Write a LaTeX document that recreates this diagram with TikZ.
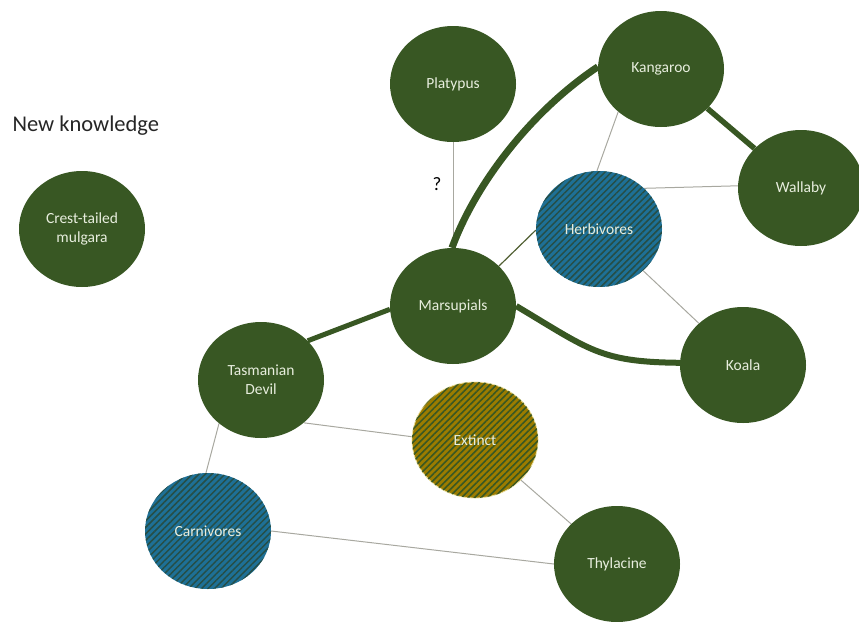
\documentclass[tikz,border=0pt]{standalone}
\usepackage{fontspec}
\setmainfont{Carlito}
\usetikzlibrary{shapes.geometric,patterns.meta}
\definecolor{dkgreen}{RGB}{56,87,35}
\definecolor{hblue}{RGB}{30,112,150}
\definecolor{hstripe}{RGB}{38,78,70}
\definecolor{gold}{RGB}{155,124,0}
\definecolor{txtlight}{RGB}{232,238,222}
\definecolor{thin}{RGB}{168,168,160}
\definecolor{olive}{RGB}{80,95,50}
\pgfdeclarelayer{bg}
\pgfsetlayers{bg,main}
\tikzset{
  bubble/.style={ellipse, minimum width=126pt, minimum height=116pt, inner sep=0pt,
    fill=dkgreen, text=txtlight, align=center, font=\fontsize{15.5}{19}\selectfont},
  herbstyle/.style={bubble, fill=hblue,
    postaction={pattern={Lines[angle=45,distance=4.6pt,line width=1.5pt]}, pattern color=hstripe}},
  extstyle/.style={bubble, fill=gold, draw={rgb,255:red,235;green,225;blue,160}, line width=0.8pt,
    postaction={pattern={Lines[angle=45,distance=4.6pt,line width=1.5pt]}, pattern color=dkgreen}},
  thinlink/.style={draw=thin, line width=1pt},
  thicklink/.style={draw=dkgreen, line width=#1},
}
\begin{document}
\begin{tikzpicture}[x=1pt,y=-1pt]
\useasboundingbox (0,0) rectangle (859,621);
\node[anchor=west, text=black!85, font=\fontsize{22.5}{26}\selectfont] (nk) at (9,126) {New knowledge};
\node[bubble] (mul) at (82,229) {Crest-tailed\\mulgara};
\node[bubble] (pla) at (453,84) {Platypus};
\node[bubble] (kan) at (661,69) {Kangaroo};
\node[bubble] (wal) at (801,188) {Wallaby};
\node[herbstyle] (her) at (599,229) {Herbivores};
\node[bubble] (mar) at (453,306) {Marsupials};
\node[bubble] (koa) at (743,365) {Koala};
\node[bubble] (tas) at (261,380) {Tasmanian\\Devil};
\node[extstyle] (ext) at (475,440) {Extinct};
\node[herbstyle] (car) at (208,531) {Carnivores};
\node[bubble] (thy) at (617,564) {Thylacine};
\node[font=\fontsize{19}{22}\selectfont] (q) at (437,184) {?};
\begin{pgfonlayer}{bg}
\draw[thinlink, line width=0.8pt] (pla) -- (mar);
\draw[thinlink] (kan.225) -- (her.92);
\draw[thinlink] (her.42) -- (wal.178);
\draw[thinlink] (her) -- (koa);
\draw[draw=olive, line width=1.2pt] (mar.41) -- (her.181);
\draw[thinlink] (tas.226) -- (car.92);
\draw[thinlink] (tas.-45) -- (ext.177);
\draw[thinlink] (car.0) -- (thy.180);
\draw[thinlink] (ext) -- (thy);
\draw[thicklink=5.5pt] (kan) -- (wal);
\draw[thicklink=5pt] (tas.40) -- (mar.183);
\draw[thicklink=7pt] (mar.91) .. controls (475,185) and (530,112) .. (kan.178);
\draw[thicklink=6pt] (mar.0) .. controls (590,350) and (600,362) .. (koa.178);
\end{pgfonlayer}
\end{tikzpicture}
\end{document}
